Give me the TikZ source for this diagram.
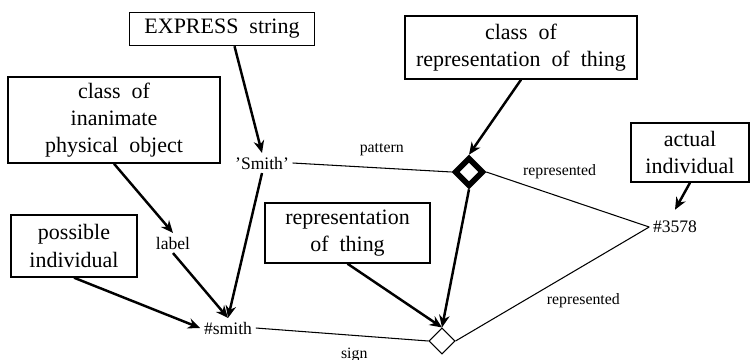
\documentclass[tikz,border=0pt]{standalone}
\usepackage{fontspec}
\setmainfont{Liberation Serif}
\usetikzlibrary{shapes.geometric,arrows.meta}

\begin{document}
\begin{tikzpicture}[
    thing/.style={rectangle, draw, line width=0.8pt, align=center, font={\fontsize{12.5}{15.5}\selectfont\spaceskip=0.5em\relax}, inner sep=2pt},
    value/.style={font=\fontsize{10}{12}\selectfont, inner sep=2pt},
    rel/.style={font=\fontsize{9}{11}\selectfont, inner sep=1pt},
    arrow/.style={-{Stealth[length=7pt,width=6pt]}, line width=1.4pt},
    link/.style={line width=0.6pt},
    hub/.style={diamond, draw, inner sep=0pt},
]
\useasboundingbox (0,0) rectangle (15.02,-7.18);

% classes
\node[thing, minimum width=3.7cm, minimum height=0.66cm] (express) at (4.44,-0.58) {EXPRESS string};
\node[thing, minimum width=4.24cm, minimum height=1.72cm] (inanimate) at (2.28,-2.40) {class of\\inanimate\\physical object};
\node[thing, minimum width=4.64cm, minimum height=1.26cm] (crep) at (10.42,-0.95) {class of\\representation of thing};
\node[thing, minimum width=2.36cm, minimum height=1.18cm] (actual) at (13.80,-3.05) {actual\\individual};
\node[thing, minimum width=2.52cm, minimum height=1.24cm] (possible) at (1.48,-4.92) {possible\\individual};
\node[thing, minimum width=3.3cm, minimum height=1.2cm] (rep) at (6.95,-4.66) {representation\\of thing};

% instances
\node[value] (smithstr) at (5.24,-3.26) {'Smith'};
\node[value] (label) at (3.46,-4.86) {label};
\node[value] (smithid) at (4.56,-6.56) {\#smith};
\node[value] (n3578) at (13.50,-4.54) {\#3578};

% relationships
\node[hub, line width=3.2pt, minimum size=0.58cm] (d1) at (9.38,-3.44) {};
\node[hub, line width=0.6pt, minimum size=0.52cm] (d2) at (8.84,-6.82) {};

\draw[link] (smithstr.east) -- node[rel, pos=0.56, above=0.2cm] {pattern} (d1.west);
\draw[link] (d1.east) -- node[rel, pos=0.45, above=0.32cm] {represented} (n3578.west);
\draw[link] (d2.east) -- node[rel, pos=0.66, below=0.5cm] {represented} (n3578.west);
\draw[link] (smithid.east) -- node[rel, pos=0.57, below=0.2cm] {sign} (d2.west);

% classification
\draw[arrow] ([xshift=0.25cm]express.south) -- (smithstr.north);
\draw[arrow] (inanimate.south) -- (label.north);
\draw[arrow] (crep.south) -- (d1.north);
\draw[arrow] (actual.south) -- ([yshift=0.15cm]n3578.north);
\draw[arrow] (possible.south) -- (smithid.west);
\draw[arrow] (label.south) -- (smithid.north);
\draw[arrow] (smithstr.south) -- (smithid.north);
\draw[arrow] (rep.south) -- (d2.north);
\draw[arrow] (d1.south) -- (d2.north);
\end{tikzpicture}
\end{document}
